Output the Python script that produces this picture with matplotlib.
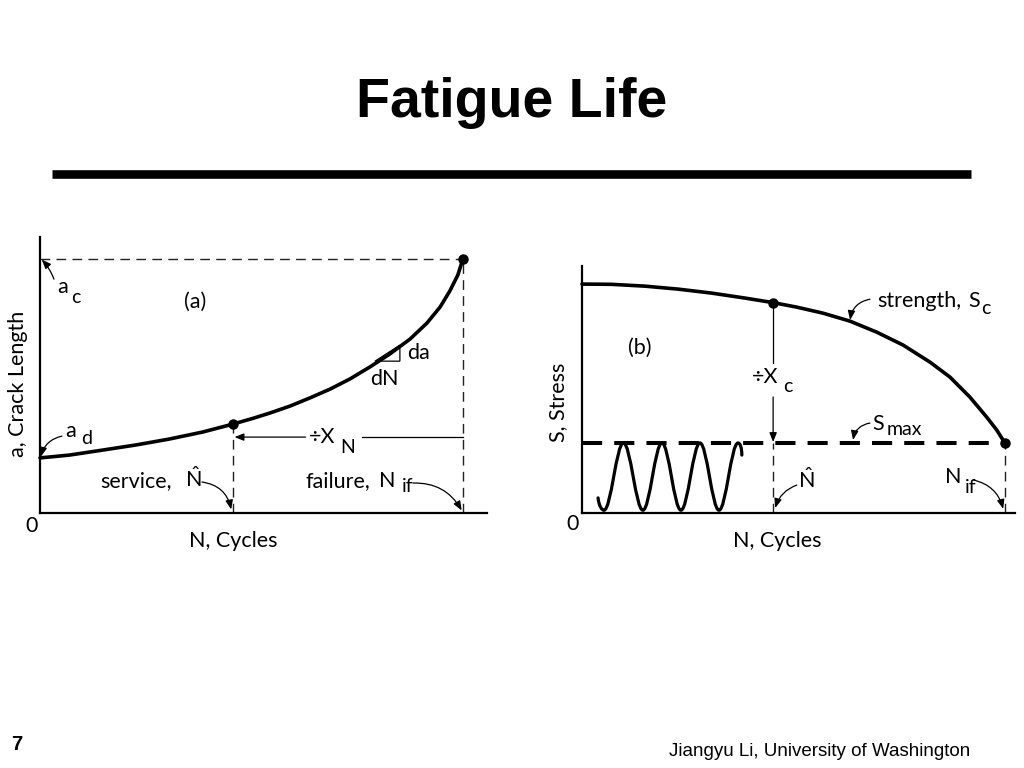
import matplotlib
matplotlib.use('Agg')
import matplotlib.pyplot as plt
from matplotlib.lines import Line2D
from matplotlib.path import Path
from matplotlib.patches import PathPatch, Polygon

# Panel (a): crack length a vs cycles N (N scaled by N_if, a scaled by a_c)
crack_N = [0.0, 0.069, 0.149, 0.227, 0.305, 0.385, 0.456, 0.506, 0.544, 0.591, 0.638,
           0.686, 0.733, 0.780, 0.827, 0.875, 0.915, 0.946, 0.969, 0.988, 1.0]
crack_a = [0.217, 0.228, 0.248, 0.268, 0.291, 0.319, 0.350, 0.374, 0.394, 0.421, 0.453,
           0.488, 0.528, 0.575, 0.626, 0.685, 0.748, 0.811, 0.874, 0.937, 1.0]
a_c = 1.0
a_d = 0.217
N_hat_a = 0.456
a_hat = 0.350
N_if_a = 1.0

# Panel (b): strength S_c vs cycles N (S scaled by initial strength)
strength_N = [0.0, 0.069, 0.149, 0.227, 0.305, 0.385, 0.452, 0.506, 0.570, 0.634,
              0.697, 0.759, 0.823, 0.870, 0.917, 0.957, 0.981, 1.0]
strength_S = [1.0, 0.999, 0.991, 0.978, 0.961, 0.939, 0.919, 0.900, 0.873, 0.838,
              0.790, 0.734, 0.659, 0.594, 0.507, 0.419, 0.362, 0.306]
S_max = 0.306
S_hat = 0.919
N_hat_b = 0.452
N_if_b = 1.0
# load cycles: troughs and peaks of the applied stress
cycle_troughs = [0.052, 0.144, 0.234, 0.324]
cycle_peaks = [0.098, 0.189, 0.279, 0.369]
trough_S = 0.012
wave_start = (0.038, 0.066)
wave_end = (0.378, 0.253)

FONT = 'Lato'
TS = 15.5
SUB = 14
plt.rcParams['mathtext.fontset'] = 'custom'
plt.rcParams['mathtext.rm'] = FONT
plt.rcParams['mathtext.it'] = FONT
fig = plt.figure(figsize=(10.24, 7.68), dpi=100)

# slide title and rule
fig.text(0.5, 1 - 117 / 768, 'Fatigue Life', ha='center', va='baseline',
         fontsize=40, fontweight='bold', family='Liberation Sans')
fig.add_artist(Line2D([52 / 1024, 971 / 1024], [1 - 174 / 768] * 2, lw=6.2,
                      color='black', solid_capstyle='butt', transform=fig.transFigure))
fig.text(17 / 1024, 1 - 745 / 768, '7', ha='center', va='center', fontsize=14.5,
         fontweight='bold', family='Liberation Sans')
fig.text(970 / 1024, 1 - 752 / 768, 'Jiangyu Li, University of Washington', ha='right',
         va='center', fontsize=13.5, family='Liberation Sans')

axA = fig.add_axes([40 / 1024, 1 - 513 / 768, 447 / 1024, 276 / 768])
axB = fig.add_axes([582 / 1024, 1 - 513 / 768, 433 / 1024, 247 / 768])
axA.set_xlim(0, 1.057)
axA.set_ylim(0, 1.087)
axB.set_xlim(0, 1.024)
axB.set_ylim(0, 1.079)
for ax in (axA, axB):
    ax.set_xticks([])
    ax.set_yticks([])
    ax.spines['top'].set_visible(False)
    ax.spines['right'].set_visible(False)
    ax.spines['left'].set_linewidth(1.6)
    ax.spines['bottom'].set_linewidth(1.6)
    ax.patch.set_alpha(0)

thin = dict(color='#222222', lw=1.0, dashes=(7, 4.5))
arrow_kw = dict(arrowstyle='-|>,head_length=0.55,head_width=0.22', color='black',
                lw=0.9, mutation_scale=10, shrinkA=0, shrinkB=0)


def txt(ax, x, y, s, size=TS, va='baseline', **kw):
    ax.text(x, y, s, fontsize=size, family=FONT, va=va, clip_on=False, **kw)


def curved(ax, tail, head, rad):
    ax.annotate('', xy=head, xytext=tail,
                arrowprops=dict(connectionstyle='arc3,rad=%s' % rad, **arrow_kw),
                annotation_clip=False)


# ---------- panel (a) ----------
axA.plot([0, N_if_a], [a_c, a_c], **thin)
axA.plot([N_if_a, N_if_a], [0, a_c], **thin)
axA.plot([N_hat_a, N_hat_a], [0, a_hat], **thin)
axA.plot(crack_N, crack_a, color='black', lw=2.6, solid_capstyle='round',
         solid_joinstyle='round', clip_on=False)
axA.plot([N_hat_a, N_if_a], [a_hat, a_c], 'o', color='black', ms=6.5, clip_on=False)

# slope triangle da/dN
axA.add_patch(Polygon([(0.792, 0.598), (0.851, 0.598), (0.851, 0.661)], closed=True,
                      fill=False, lw=0.9, color='black'))
txt(axA, 0.868, 0.605, 'da')
txt(axA, 0.780, 0.505, 'dN')

txt(axA, 0.040, 0.868, 'a')
txt(axA, 0.074, 0.826, 'c', SUB)
curved(axA, (0.033, 0.921), (0.004, 0.998), 0.1)
txt(axA, 0.366, 0.831, '(a)', ha='center', va='center')
txt(axA, 0.060, 0.300, 'a')
txt(axA, 0.098, 0.270, 'd', SUB)
curved(axA, (0.052, 0.303), (0.002, 0.222), 0.3)

txt(axA, 0.312, 0.102, 'service,', ha='right')
txt(axA, 0.342, 0.102, r'$\mathrm{\hat{N}}$')
curved(axA, (0.383, 0.122), (0.452, 0.014), -0.35)

txt(axA, 0.780, 0.102, 'failure,', ha='right')
txt(axA, 0.801, 0.102, 'N')
txt(axA, 0.855, 0.083, 'if', SUB)
curved(axA, (0.882, 0.118), (0.997, 0.010), -0.3)

# ÷X_N dimension arrow
axA.plot([0.761, N_if_a], [0.299, 0.299], color='black', lw=0.9)
axA.annotate('', xy=(N_hat_a + 0.004, 0.299), xytext=(0.628, 0.299),
             arrowprops=dict(**arrow_kw))
txt(axA, 0.636, 0.276, '÷X')
txt(axA, 0.709, 0.236, 'N', SUB)

fig.text(18 / 1024, 1 - 384 / 768, 'a, Crack Length', rotation=90, ha='center',
         va='center', fontsize=TS, family=FONT)
fig.text(233 / 1024, 1 - 541 / 768, 'N, Cycles', ha='center', va='center',
         fontsize=TS, family=FONT)
fig.text(32 / 1024, 1 - 526 / 768, '0', ha='center', va='center', fontsize=TS, family=FONT)

# ---------- panel (b) ----------
axB.plot([0, N_if_b], [S_max, S_max], color='black', lw=2.9, dashes=(5, 3), clip_on=False)
axB.plot([N_hat_b, N_hat_b], [0, S_max], **thin)
axB.plot([N_if_b, N_if_b], [0, S_max], **thin)
axB.plot(strength_N, strength_S, color='black', lw=2.6, solid_capstyle='round',
         solid_joinstyle='round', clip_on=False)
axB.plot([N_hat_b, N_if_b], [S_hat, S_max], 'o', color='black', ms=6.5, clip_on=False)

# applied stress cycles, drawn as bezier half waves between extremes
extremes = sorted([(t, trough_S) for t in cycle_troughs] + [(p, S_max) for p in cycle_peaks])
verts = [wave_start, (wave_start[0] + 0.002, 0.030), (extremes[0][0] - 0.005, trough_S),
         extremes[0]]
codes = [Path.MOVETO, Path.CURVE4, Path.CURVE4, Path.CURVE4]
for (x0, y0), (x1, y1) in zip(extremes[:-1], extremes[1:]):
    dx = x1 - x0
    verts += [(x0 + 0.3642 * dx, y0), (x1 - 0.3642 * dx, y1), (x1, y1)]
    codes += [Path.CURVE4] * 3
last = extremes[-1]
verts += [(last[0] + 0.005, S_max), (wave_end[0], 0.285), wave_end]
codes += [Path.CURVE4] * 3
axB.add_patch(PathPatch(Path(verts, codes), fill=False, lw=2.3, color='black',
                        capstyle='round', joinstyle='round'))

# ÷X_c dimension arrow
axB.plot([N_hat_b, N_hat_b], [S_hat, 0.655], color='black', lw=0.9)
axB.annotate('', xy=(N_hat_b, S_max + 0.004), xytext=(N_hat_b, 0.507),
             arrowprops=dict(**arrow_kw))
txt(axB, 0.402, 0.568, '÷X')
txt(axB, 0.475, 0.530, 'c', SUB)

txt(axB, 0.698, 0.900, 'strength,')
txt(axB, 0.913, 0.900, 'S')
txt(axB, 0.945, 0.870, 'c', SUB)
curved(axB, (0.681, 0.934), (0.634, 0.843), 0.35)
txt(axB, 0.137, 0.721, '(b)', ha='center', va='center')

txt(axB, 0.686, 0.362, 'S')
txt(axB, 0.721, 0.340, 'max', SUB)
curved(axB, (0.681, 0.393), (0.641, 0.319), 0.35)

txt(axB, 0.511, 0.109, r'$\mathrm{\hat{N}}$')
curved(axB, (0.508, 0.122), (0.457, 0.022), 0.25)

txt(axB, 0.858, 0.131, 'N')
txt(axB, 0.905, 0.087, 'if', SUB)
curved(axB, (0.926, 0.144), (0.996, 0.018), -0.3)

fig.text(558 / 1024, 1 - 402 / 768, 'S, Stress', rotation=90, ha='center',
         va='center', fontsize=TS, family=FONT)
fig.text(777 / 1024, 1 - 541 / 768, 'N, Cycles', ha='center', va='center',
         fontsize=TS, family=FONT)
fig.text(573 / 1024, 1 - 524 / 768, '0', ha='center', va='center', fontsize=TS, family=FONT)

fig.savefig('out.png', dpi=100)
